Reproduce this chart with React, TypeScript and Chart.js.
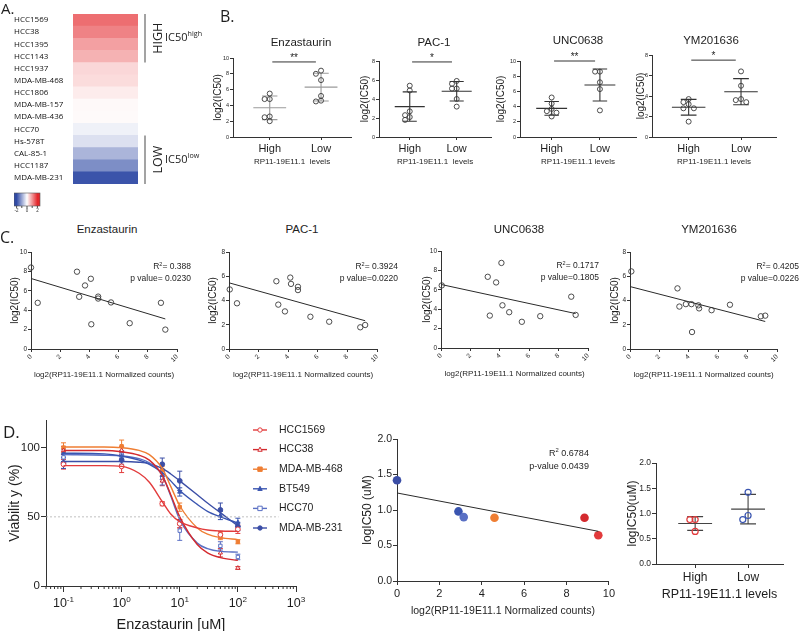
import React, { useEffect, useRef } from "react";
import { Chart, registerables } from "chart.js";

Chart.register(...registerables);

const SANS = "'Liberation Sans', Arial, Helvetica, sans-serif";
const OPEN = "'Open Sans', 'Liberation Sans', sans-serif";
const INK = "#1e1e1e";
const AXIS = "#333333";
Chart.defaults.font.family = SANS;
Chart.defaults.color = INK;

// ================= DATA =================
// Panel A – heatmap
const cellLines = ["HCC1569", "HCC38", "HCC1395", "HCC1143", "HCC1937", "MDA-MB-468", "HCC1806", "MDA-MB-157", "MDA-MB-436", "HCC70", "Hs-578T", "CAL-85-1", "HCC1187", "MDA-MB-231"];
const heatScores = [1.35, 1.16, 0.88, 0.72, 0.37, 0.33, 0.18, 0.06, 0.05, -0.16, -0.34, -0.82, -1.26, -1.9];
const highBracket = ["HCC1569", "HCC1143"];
const lowBracket = ["Hs-578T", "MDA-MB-231"];
const colorbarTicks = [-2, -1, 0, 1, 2];
const colorbarLabels = [-2, 0, 2];

// Panel B – dot plots
const drugs = ["Enzastaurin", "PAC-1", "UNC0638", "YM201636"];
const groupLabels = ["High", "Low"];
const enzHigh = [5.5, 4.8, 4.8, 2.6, 2.5, 2.0];
const enzLow = [8.4, 8.0, 7.2, 5.2, 4.6, 4.5];
const pacHigh = [5.4, 4.9, 2.7, 2.3, 2.1, 1.8];
const pacLow = [5.9, 5.6, 5.1, 5.1, 4.0, 3.2];
const uncHigh = [5.2, 4.4, 3.7, 3.4, 3.2, 2.7];
const uncLow = [8.6, 8.6, 7.2, 6.3, 3.5];
const ymHigh = [3.7, 3.4, 3.2, 2.8, 2.8, 1.5];
const ymLow = [6.4, 5.0, 3.7, 3.6, 3.4];
const bYMax = [10, 8, 10, 8];
const bStars = ["**", "*", "**", "*"];
const bStarLevel = [9.5, 7.9, 10, 7.5];
const bXTitles = ["RP11-19E11.1  levels", "RP11-19E11.1  levels", "RP11-19E11.1 levels", "RP11-19E11.1 levels"];

// Panel C – correlations
const enzCounts = [0, 0.46, 3.15, 3.3, 3.7, 4.1, 4.13, 4.6, 4.6, 5.48, 6.76, 8.9, 9.2];
const enzIC50 = [8.4, 4.76, 7.97, 5.38, 6.55, 7.24, 2.55, 5.4, 5.2, 4.8, 2.66, 4.76, 2.0];
const pacCounts = [0.05, 0.54, 3.2, 3.33, 3.78, 4.14, 4.19, 4.66, 4.66, 5.5, 6.77, 8.87, 9.2];
const pacIC50 = [4.91, 3.77, 5.59, 3.66, 3.1, 5.89, 5.37, 5.13, 4.86, 2.66, 2.25, 1.79, 1.98];
const uncCounts = [0.05, 3.18, 3.32, 3.75, 4.11, 4.18, 4.64, 5.5, 6.75, 8.86, 9.16];
const uncIC50 = [6.45, 7.34, 3.34, 6.76, 8.77, 4.4, 3.69, 2.7, 3.28, 5.29, 3.41];
const ymCounts = [0.09, 3.23, 3.36, 3.8, 4.18, 4.22, 4.65, 4.7, 5.55, 6.8, 8.9, 9.2];
const ymIC50 = [6.4, 5.0, 3.5, 3.7, 3.7, 1.4, 3.6, 3.35, 3.2, 3.65, 2.7, 2.75];
const cFitStart = [7.27, 5.46, 6.55, 5.15];
const cFitEnd = [3.1, 2.33, 3.55, 2.27];
const cFitEndX = [9.2, 9.2, 9.16, 9.2];
const cYMax = [10, 8, 10, 8];
const cR2Text = ["= 0.388", "= 0.3924", "= 0.1717", "= 0.4205"];
const cPText = ["p value= 0.0230", "p value=0.0220", "p value=0.1805", "p value=0.0226"];

// Panel D – dose response
const dLines = ["HCC1569", "HCC38", "MDA-MB-468", "BT549", "HCC70", "MDA-MB-231"];
const doses = [0.1, 1, 5, 10, 50, 100];
const fitDoses = [0.1, 0.5, 1, 2, 3, 5, 7, 10, 20, 30, 50, 100];
const hcc1569Pts = [88, 86.5, 59.5, 45, 37, 41];
const hcc38Pts = [98, 98, 76, 45, 24, 13];
const mdamb468Pts = [100, 101, 84, 57, 36, 32];
const bt549Pts = [96, 94, 80, 68, 51, 46];
const hcc70Pts = [93, 95, 78, 40, 29, 21];
const mdamb231Pts = [89, 91, 88, 76, 55, 43];
const hcc1569Err = [3.5, 4.5, 1.5, 3, 2.5, 3];
const hcc38Err = [3, 3, 3.5, 3, 3, 1];
const mdamb468Err = [3.5, 4.5, 2.5, 3, 2.5, 1.5];
const bt549Err = [3, 3, 3, 3, 3, 3];
const hcc70Err = [3, 3, 5, 7, 3, 2];
const mdamb231Err = [4, 3, 4.5, 7, 5, 3];
const hcc1569Fit = [87, 87, 86.5, 81.5, 75, 61, 52, 46.5, 42, 40.5, 39.8, 39.5];
const hcc38Fit = [98, 98, 97, 94.5, 91, 80, 66, 50, 30, 24, 20.5, 18.5];
const mdamb468Fit = [100.5, 100.5, 100, 98, 95, 85, 72, 58, 42, 37.5, 35, 33.5];
const bt549Fit = [96, 95.5, 94, 91, 88, 82, 76, 69, 59, 54, 50, 45.5];
const hcc70Fit = [95, 94.5, 94, 92, 89, 80, 65, 48, 31, 27, 25, 24.5];
const mdamb231Fit = [90, 90, 90, 89.5, 88.5, 85, 81, 76, 66, 60, 53, 43.5];
const dMajorTicks = [0.1, 1, 10, 100, 1000];
const halfViability = 50;

const d2Lines = ["MDA-MB-231", "BT549", "HCC70", "MDA-MB-468", "HCC38", "HCC1569"];
const d2Counts = [0, 2.9, 3.15, 4.6, 8.85, 9.5];
const d2LogIC50 = [1.42, 0.98, 0.9, 0.89, 0.89, 0.645];
const d2FitX = [0, 9.5];
const d2FitY = [1.24, 0.7];
const d2R2 = "0.6784";
const d2P = "0.0439";

const d3High = [0.88, 0.88, 0.645];
const d3Low = [1.42, 0.96, 0.88];

// ================= STYLE MAPS =================
const dColor: Record<string, string> = {
  HCC1569: "#e23b3c",
  HCC38: "#d42a2e",
  "MDA-MB-468": "#ef7e33",
  BT549: "#3a55b0",
  HCC70: "#5a70c4",
  "MDA-MB-231": "#3b4ea6",
};
const dStyle: Record<string, [string, boolean]> = {
  HCC1569: ["circle", false],
  HCC38: ["triangle", false],
  "MDA-MB-468": ["rect", true],
  BT549: ["triangle", true],
  HCC70: ["rect", false],
  "MDA-MB-231": ["circle", true],
};

// ================= HELPERS =================
type Box = { x0: number; y0: number; x1: number; y1: number; yW: number; xH: number; pT: number; pR: number; pB?: number; pL?: number };

const fixWidth = (w: number) => (s: any) => { s.width = w; };
const fixHeight = (h: number) => (s: any) => { s.height = h; };
const useTicks = (vals: number[]) => (s: any) => { s.ticks = vals.map((v) => ({ value: v })); };
const steps = (a: number, b: number, st: number) => { const r: number[] = []; for (let v = a; v <= b + 1e-9; v += st) r.push(+v.toFixed(6)); return r; };
const mean = (a: number[]) => a.reduce((s, v) => s + v, 0) / a.length;
const sd = (a: number[]) => { const m = mean(a); return Math.sqrt(a.reduce((s, v) => s + (v - m) * (v - m), 0) / (a.length - 1)); };

function heatColor(v: number) {
  const f = Math.min(Math.abs(v) / 2, 1);
  const t = v >= 0 ? [228, 40, 44] : [49, 75, 165];
  const c = t.map((x) => Math.round(255 + (x - 255) * f));
  return `rgb(${c[0]},${c[1]},${c[2]})`;
}

function swarm(vals: number[], thr: number, d: number) {
  const order = vals.map((_, i) => i).sort((a, b) => vals[b] - vals[a]);
  const offs = new Array(vals.length).fill(0);
  const placed: number[] = [];
  const cands = [0, -d, d, -2 * d, 2 * d];
  for (const i of order) {
    for (const c of cands) {
      if (placed.every((j) => Math.abs(vals[j] - vals[i]) >= thr || Math.abs(offs[j] - c) >= d * 0.99)) { offs[i] = c; break; }
    }
    placed.push(i);
  }
  return offs;
}

function richText(ctx: any, x: number, y: number, parts: Array<[string, boolean]>, size: number, align: string, color: string, family = SANS) {
  const sup = size * 0.65;
  let total = 0;
  const widths = parts.map(([t, s]) => { ctx.font = `${s ? sup : size}px ${family}`; const w = ctx.measureText(t).width; total += w; return w; });
  let cx = align === "left" ? x : align === "right" ? x - total : x - total / 2;
  ctx.save();
  ctx.fillStyle = color; ctx.textBaseline = "middle"; ctx.textAlign = "left";
  parts.forEach(([t, s], i) => { ctx.font = `${s ? sup : size}px ${family}`; ctx.fillText(t, cx, s ? y - size * 0.35 : y); cx += widths[i]; });
  ctx.restore();
}

function marker(ctx: any, style: string, x: number, y: number, r: number, color: string, filled: boolean) {
  ctx.save();
  ctx.strokeStyle = color; ctx.fillStyle = filled ? color : "#fff"; ctx.lineWidth = 1;
  ctx.beginPath();
  if (style === "circle") ctx.arc(x, y, r, 0, Math.PI * 2);
  else if (style === "rect") ctx.rect(x - r, y - r, 2 * r, 2 * r);
  else { ctx.moveTo(x, y - r * 1.15); ctx.lineTo(x + r, y + r * 0.75); ctx.lineTo(x - r, y + r * 0.75); ctx.closePath(); }
  ctx.fill(); ctx.stroke();
  ctx.restore();
}

function yAxis(box: Box, min: number, max: number, ticks: number[], size: number, title: string, titleSize: number, tickLen = 3, fmt?: (v: number) => string) {
  const t: any = { font: { size, family: SANS }, color: INK, padding: 1, autoSkip: false, maxRotation: 0 };
  if (fmt) t.callback = (v: any) => fmt(Number(v));
  return {
    type: "linear", min, max, bounds: "data",
    afterFit: fixWidth(box.yW), afterBuildTicks: useTicks(ticks),
    grid: { display: true, drawOnChartArea: false, drawTicks: true, tickLength: tickLen, color: AXIS, tickColor: AXIS, tickWidth: 1 },
    border: { display: true, color: AXIS, width: 1 },
    ticks: t,
    title: { display: !!title, text: title, font: { size: titleSize, family: SANS }, color: INK, padding: { top: 0, bottom: 0 } },
  };
}

function xAxis(box: Box, min: number, max: number, ticks: number[], size: number, title: string, titleSize: number, tickLen = 3, extraTicks: any = {}) {
  return {
    type: "linear", min, max, bounds: "data",
    afterFit: fixHeight(box.xH), afterBuildTicks: useTicks(ticks),
    grid: { display: true, drawOnChartArea: false, drawTicks: true, tickLength: tickLen, color: AXIS, tickColor: AXIS, tickWidth: 1 },
    border: { display: true, color: AXIS, width: 1 },
    ticks: { font: { size, family: SANS }, color: INK, padding: 2, autoSkip: false, maxRotation: 0, ...extraTicks },
    title: { display: !!title, text: title, font: { size: titleSize, family: SANS }, color: INK, padding: { top: 0, bottom: 0 } },
  };
}

const baseOptions = { plugins: { legend: { display: false }, tooltip: { enabled: false }, title: { display: false } } };

// ================= PLUGINS =================
const heatExtras = {
  id: "heatExtras",
  afterDraw(chart: any) {
    const { ctx, chartArea: a } = chart;
    const y = chart.scales.y;
    const rowH = (a.bottom - a.top) / cellLines.length;
    const groups = [
      { from: highBracket[0], to: highBracket[1], word: "HIGH", sup: "high" },
      { from: lowBracket[0], to: lowBracket[1], word: "LOW", sup: "low" },
    ];
    groups.forEach((g) => {
      const top = y.getPixelForValue(cellLines.indexOf(g.from)) - rowH / 2;
      const bot = y.getPixelForValue(cellLines.indexOf(g.to)) + rowH / 2;
      const cy = (top + bot) / 2;
      ctx.save();
      ctx.strokeStyle = "#8c8c8c"; ctx.lineWidth = 1.6;
      ctx.beginPath(); ctx.moveTo(a.right + 7, top); ctx.lineTo(a.right + 7, bot); ctx.stroke();
      ctx.translate(a.right + 20, cy); ctx.rotate(-Math.PI / 2);
      ctx.font = `12.5px ${OPEN}`; ctx.fillStyle = "#222"; ctx.textAlign = "center"; ctx.textBaseline = "middle";
      ctx.fillText(g.word, 0, 0);
      ctx.restore();
      richText(ctx, a.right + 27, cy, [["IC50", false], [g.sup, true]], 11, "left", "#222", OPEN);
    });
    // colour bar
    const cbL = chart.scales.y.left, cbW = 26, cbT = a.bottom + 9, cbH = 13;
    const grad = ctx.createLinearGradient(cbL, 0, cbL + cbW, 0);
    for (let t = 0; t <= 1.0001; t += 0.1) grad.addColorStop(Math.min(t, 1), heatColor(-2.5 + 5 * t));
    ctx.save();
    ctx.fillStyle = grad; ctx.fillRect(cbL, cbT, cbW, cbH);
    ctx.strokeStyle = "#555"; ctx.lineWidth = 0.6; ctx.strokeRect(cbL, cbT, cbW, cbH);
    ctx.strokeStyle = "#222"; ctx.lineWidth = 0.8;
    colorbarTicks.forEach((v) => { const px = cbL + ((v + 2.5) / 5) * cbW; ctx.beginPath(); ctx.moveTo(px, cbT + cbH); ctx.lineTo(px, cbT + cbH + 2); ctx.stroke(); });
    ctx.fillStyle = "#333"; ctx.font = `4.5px ${SANS}`; ctx.textAlign = "center"; ctx.textBaseline = "top";
    colorbarLabels.forEach((v) => { const px = cbL + ((v + 2.5) / 5) * cbW; ctx.fillText(String(v), px, cbT + cbH + 3); });
    ctx.restore();
  },
};

const errorBars = {
  id: "errorBars",
  beforeDatasetsDraw(chart: any) {
    const { ctx } = chart;
    chart.data.datasets.forEach((ds: any, i: number) => {
      if (!ds.errs) return;
      const meta = chart.getDatasetMeta(i);
      const ys = chart.scales[meta.yAxisID];
      ctx.save(); ctx.strokeStyle = ds.barColor; ctx.lineWidth = 1;
      meta.data.forEach((el: any, j: number) => {
        const v = ds.data[j].y, e = ds.errs[j];
        const t = ys.getPixelForValue(v + e), b = ys.getPixelForValue(v - e);
        ctx.beginPath();
        ctx.moveTo(el.x, t); ctx.lineTo(el.x, b);
        ctx.moveTo(el.x - 2.5, t); ctx.lineTo(el.x + 2.5, t);
        ctx.moveTo(el.x - 2.5, b); ctx.lineTo(el.x + 2.5, b);
        ctx.stroke();
      });
      ctx.restore();
    });
  },
};

// ================= BUILDERS =================
function buildHeat(box: Box) {
  return {
    type: "bar",
    data: { labels: cellLines, datasets: [{ data: cellLines.map(() => 1), backgroundColor: heatScores.map(heatColor), borderWidth: 0, barPercentage: 1, categoryPercentage: 1 }] },
    options: {
      ...baseOptions,
      indexAxis: "y",
      scales: {
        x: { display: false, min: 0, max: 1 },
        y: { afterFit: fixWidth(box.yW), grid: { display: false }, border: { display: false }, ticks: { crossAlign: "far", padding: 0, autoSkip: false, font: { family: OPEN, size: 8 }, color: "#111" } },
      },
    },
    plugins: [heatExtras],
  };
}

type DotParams = {
  groups: number[][]; colors: string[]; ymax: number; ystep: number; xmin: number; xmax: number;
  yTitle: string; xTitle: string; yTick: number; yTitleSize: number; groupSize: number; xTitleSize: number;
  lineColor: string; star?: string; starLevel?: number; fmt?: (v: number) => string; radius: number; pointBorder: number; tickLen: number;
};

function buildDot(box: Box, p: DotParams) {
  const meanPlugin = {
    id: "meanSD",
    beforeDatasetsDraw(chart: any) {
      const { ctx } = chart;
      const x = chart.scales.x, y = chart.scales.y;
      ctx.save(); ctx.strokeStyle = p.lineColor; ctx.lineWidth = 1.1;
      p.groups.forEach((vals, gi) => {
        const m = mean(vals), s = sd(vals);
        const px = x.getPixelForValue(gi);
        const half = x.getPixelForValue(gi + 0.32) - px, cap = x.getPixelForValue(gi + 0.15) - px;
        const ym = y.getPixelForValue(m), yt = y.getPixelForValue(m + s), yb = y.getPixelForValue(m - s);
        ctx.beginPath();
        ctx.moveTo(px - half, ym); ctx.lineTo(px + half, ym);
        ctx.moveTo(px, yt); ctx.lineTo(px, yb);
        ctx.moveTo(px - cap, yt); ctx.lineTo(px + cap, yt);
        ctx.moveTo(px - cap, yb); ctx.lineTo(px + cap, yb);
        ctx.stroke();
      });
      if (p.star && p.starLevel !== undefined) {
        const ys = y.getPixelForValue(p.starLevel);
        const xa = x.getPixelForValue(0.05), xb = x.getPixelForValue(0.9);
        ctx.strokeStyle = "#333"; ctx.lineWidth = 1;
        ctx.beginPath(); ctx.moveTo(xa, ys); ctx.lineTo(xb, ys); ctx.stroke();
        ctx.fillStyle = INK; ctx.font = `10px ${SANS}`; ctx.textAlign = "center"; ctx.textBaseline = "bottom";
        ctx.fillText(p.star, (xa + xb) / 2, ys + 1);
      }
      ctx.restore();
    },
  };
  const datasets = p.groups.map((vals, gi) => {
    const offs = swarm(vals, p.ymax * 0.06, 0.1);
    return {
      data: vals.map((v, i) => ({ x: gi + offs[i], y: v })),
      pointRadius: p.radius, pointBorderColor: p.colors[gi], pointBackgroundColor: "rgba(255,255,255,0)",
      pointBorderWidth: p.pointBorder, showLine: false, clip: false,
    };
  });
  return {
    type: "scatter",
    data: { datasets },
    options: {
      ...baseOptions,
      scales: {
        x: xAxis(box, p.xmin, p.xmax, [0, 1], p.groupSize, p.xTitle, p.xTitleSize, p.tickLen, { callback: (v: any) => groupLabels[Number(v)] }),
        y: yAxis(box, 0, p.ymax, steps(0, p.ymax, p.ystep), p.yTick, p.yTitle, p.yTitleSize, p.tickLen, p.fmt),
      },
    },
    plugins: [meanPlugin],
  };
}

const cCounts = [enzCounts, pacCounts, uncCounts, ymCounts];
const cIC50 = [enzIC50, pacIC50, uncIC50, ymIC50];
const cAnnoDx = [14, 21, 11, 22];

function buildCorr(box: Box, idx: number) {
  const xs = cCounts[idx], ys = cIC50[idx];
  const anno = {
    id: "corrAnno",
    afterDraw(chart: any) {
      const { ctx, chartArea: a } = chart;
      const rx = a.right + cAnnoDx[idx];
      richText(ctx, rx, a.top + 15, [["R", false], ["2", true], [cR2Text[idx], false]], 8.5, "right", INK);
      richText(ctx, rx, a.top + 27, [[cPText[idx], false]], 8.5, "right", INK);
    },
  };
  return {
    type: "scatter",
    data: {
      datasets: [
        { data: [{ x: 0, y: cFitStart[idx] }, { x: cFitEndX[idx], y: cFitEnd[idx] }], showLine: true, borderColor: "#2a2a2a", borderWidth: 1, pointRadius: 0, clip: false },
        { data: xs.map((x, i) => ({ x, y: ys[i] })), pointRadius: 2.7, pointBorderColor: "#3a3a3a", pointBackgroundColor: "rgba(255,255,255,0)", pointBorderWidth: 0.9, clip: false },
      ],
    },
    options: {
      ...baseOptions,
      scales: {
        x: xAxis(box, 0, 10, steps(0, 10, 2), 6.5, "log2(RP11-19E11.1 Normalized counts)", 8, 3, { minRotation: 45, maxRotation: 45, padding: 1 }),
        y: yAxis(box, 0, cYMax[idx], steps(0, cYMax[idx], 2), 6.5, "log2(IC50)", 10, 3),
      },
    },
    plugins: [anno],
  };
}

const dPts = [hcc1569Pts, hcc38Pts, mdamb468Pts, bt549Pts, hcc70Pts, mdamb231Pts];
const dErr = [hcc1569Err, hcc38Err, mdamb468Err, bt549Err, hcc70Err, mdamb231Err];
const dFit = [hcc1569Fit, hcc38Fit, mdamb468Fit, bt549Fit, hcc70Fit, mdamb231Fit];

function buildDose(box: Box) {
  const curves = dLines.map((name, i) => ({
    data: fitDoses.map((d, j) => ({ x: d, y: dFit[i][j] })),
    showLine: true, borderColor: dColor[name], borderWidth: 1.4, pointRadius: 0, cubicInterpolationMode: "monotone", clip: false,
  }));
  const points = dLines.map((name, i) => ({
    data: doses.map((d, j) => ({ x: d, y: dPts[i][j] })),
    errs: dErr[i], barColor: dColor[name],
    showLine: false, pointStyle: dStyle[name][0], pointRadius: 2.4,
    pointBorderColor: dColor[name], pointBackgroundColor: dStyle[name][1] ? dColor[name] : "#ffffff", pointBorderWidth: 1, clip: false,
  }));
  const ref = { data: [{ x: 0.05, y: halfViability }, { x: 500, y: halfViability }], showLine: true, borderColor: "#b0b0b0", borderWidth: 0.8, borderDash: [2, 2], pointRadius: 0 };
  const extras = {
    id: "doseExtras",
    afterDraw(chart: any) {
      const { ctx, chartArea: a } = chart;
      const x = chart.scales.x;
      ctx.save(); ctx.strokeStyle = AXIS; ctx.lineWidth = 1;
      for (let k = -2; k <= 2; k++) for (let m = 2; m <= 9; m++) {
        const v = m * Math.pow(10, k);
        if (v < x.min || v > x.max) continue;
        const px = x.getPixelForValue(v);
        ctx.beginPath(); ctx.moveTo(px, a.bottom); ctx.lineTo(px, a.bottom + 3); ctx.stroke();
      }
      ctx.restore();
      dMajorTicks.forEach((v) => {
        const px = x.getPixelForValue(v);
        richText(ctx, px, a.bottom + 18, [["10", false], [String(Math.round(Math.log10(v))), true]], 12.5, "center", INK);
      });
      // legend
      dLines.forEach((name, i) => {
        const ly = a.top + 10 + i * 19.6;
        const lx0 = a.right - 43, lx1 = a.right - 29;
        ctx.save(); ctx.strokeStyle = dColor[name]; ctx.lineWidth = 1.4;
        ctx.beginPath(); ctx.moveTo(lx0, ly); ctx.lineTo(lx1, ly); ctx.stroke(); ctx.restore();
        marker(ctx, dStyle[name][0], (lx0 + lx1) / 2, ly, 2.2, dColor[name], dStyle[name][1]);
        ctx.save(); ctx.fillStyle = INK; ctx.font = `10.5px ${SANS}`; ctx.textAlign = "left"; ctx.textBaseline = "middle";
        ctx.fillText(name, a.right - 17, ly); ctx.restore();
      });
    },
  };
  return {
    type: "scatter",
    data: { datasets: [ref, ...curves, ...points] },
    options: {
      ...baseOptions,
      scales: {
        x: {
          type: "logarithmic", min: 0.05, max: 1000, bounds: "data",
          afterFit: fixHeight(box.xH), afterBuildTicks: useTicks(dMajorTicks),
          grid: { display: true, drawOnChartArea: false, drawTicks: true, tickLength: 6, color: AXIS, tickColor: AXIS },
          border: { display: true, color: AXIS, width: 1 },
          ticks: { display: false, autoSkip: false },
          title: { display: true, text: "Enzastaurin [uM]", font: { size: 14.5, family: SANS }, color: INK, padding: { top: 0, bottom: 0 } },
        },
        y: yAxis(box, 0, 120, [0, 50, 100], 11.5, "Viabilit y (%)", 14, 5),
      },
    },
    plugins: [errorBars, extras],
  };
}

function buildD2(box: Box) {
  const anno = {
    id: "d2Anno",
    afterDraw(chart: any) {
      const { ctx, chartArea: a } = chart;
      richText(ctx, a.right - 20, a.top + 15, [["R", false], ["2", true], [" " + d2R2, false]], 9, "right", INK);
      richText(ctx, a.right - 20, a.top + 28, [["p-value " + d2P, false]], 9, "right", INK);
    },
  };
  return {
    type: "scatter",
    data: {
      datasets: [
        { data: d2FitX.map((x, i) => ({ x, y: d2FitY[i] })), showLine: true, borderColor: "#2a2a2a", borderWidth: 1, pointRadius: 0, clip: false },
        { data: d2Counts.map((x, i) => ({ x, y: d2LogIC50[i] })), pointRadius: 4.3, pointBackgroundColor: d2Lines.map((n) => dColor[n]), pointBorderWidth: 0, clip: false },
      ],
    },
    options: {
      ...baseOptions,
      scales: {
        x: xAxis(box, 0, 10, steps(0, 10, 2), 11, "log2(RP11-19E11.1 Normalized counts)", 10.5, 4),
        y: yAxis(box, 0, 2, steps(0, 2, 0.5), 10.5, "logIC50 (uM)", 12, 4, (v) => v.toFixed(1)),
      },
    },
    plugins: [anno],
  };
}

// ================= COMPONENTS =================
function ChartCanvas({ box, build }: { box: Box; build: (b: Box) => any }) {
  const ref = useRef<HTMLCanvasElement>(null);
  const pL = box.pL ?? 0, pB = box.pB ?? 0;
  const left = box.x0 - box.yW - pL;
  const top = box.y0 - box.pT;
  const width = box.x1 - box.x0 + box.yW + pL + box.pR;
  const height = box.y1 - box.y0 + box.pT + box.xH + pB;
  useEffect(() => {
    const cfg = build(box);
    cfg.options = cfg.options || {};
    cfg.options.responsive = false;
    cfg.options.maintainAspectRatio = false;
    cfg.options.animation = false;
    cfg.options.events = [];
    cfg.options.devicePixelRatio = 1;
    cfg.options.layout = { padding: { left: pL, top: box.pT, right: box.pR, bottom: pB } };
    const ch = new Chart(ref.current as HTMLCanvasElement, cfg);
    return () => ch.destroy();
  }, []);
  return <canvas ref={ref} width={width} height={height} style={{ position: "absolute", left, top, width, height }} />;
}

function Txt({ x, y, s, size, family = SANS, anchor = "middle" }: { x: number; y: number; s: string; size: number; family?: string; anchor?: string }) {
  return (
    <div style={{ position: "absolute", left: x, top: y, transform: anchor === "middle" ? "translate(-50%,-50%)" : "translate(0,-50%)", fontSize: size, fontFamily: family, lineHeight: 1, whiteSpace: "nowrap", color: INK }}>
      {s}
    </div>
  );
}

const heatBox: Box = { x0: 73, y0: 14, x1: 138, y1: 184, yW: 59, xH: 0, pT: 8, pR: 72, pB: 30 };
const bBoxes: Box[] = [
  { x0: 233, y0: 58, x1: 352, y1: 137, yW: 21, xH: 30, pT: 12, pR: 4 },
  { x0: 379, y0: 61, x1: 492, y1: 137, yW: 20, xH: 30, pT: 12, pR: 4 },
  { x0: 520, y0: 61, x1: 637, y1: 137, yW: 25, xH: 30, pT: 12, pR: 4 },
  { x0: 652, y0: 55, x1: 777, y1: 137, yW: 17, xH: 30, pT: 12, pR: 4 },
];
const bXRange = [[-0.716, 1.586], [-0.655, 1.733], [-0.656, 1.75], [-0.7, 1.67]];
const bGroups = [[enzHigh, enzLow], [pacHigh, pacLow], [uncHigh, uncLow], [ymHigh, ymLow]];
const bLineColors = ["#9a9a9a", "#333", "#333", "#333"];
const bTitlePos = [[301, 43], [434, 43], [578, 41], [711, 41]];

const cBoxes: Box[] = [
  { x0: 31, y0: 252, x1: 177, y1: 349, yW: 22, xH: 31, pT: 6, pR: 24 },
  { x0: 229, y0: 252, x1: 377, y1: 349, yW: 22, xH: 31, pT: 6, pR: 24 },
  { x0: 441, y0: 251, x1: 588, y1: 348, yW: 20, xH: 31, pT: 6, pR: 14 },
  { x0: 630, y0: 252, x1: 777, y1: 349, yW: 21, xH: 31, pT: 6, pR: 23 },
];
const cTitlePos = [[107, 230], [302, 230], [519, 230], [709, 230]];

const doseBox: Box = { x0: 46, y0: 420, x1: 296, y1: 586, yW: 39, xH: 48, pT: 10, pR: 60 };
const d2Box: Box = { x0: 397, y0: 439, x1: 609, y1: 581, yW: 37, xH: 36, pT: 8, pR: 8 };
const d3Box: Box = { x0: 656, y0: 463, x1: 783, y1: 564, yW: 31, xH: 38, pT: 8, pR: 12 };

export default function App() {
  useEffect(() => { document.body.style.margin = "0"; }, []);
  return (
    <div style={{ position: "absolute", left: 0, top: 0, width: 800, height: 631, overflow: "hidden", background: "#fff" }}>
      <ChartCanvas box={heatBox} build={buildHeat} />
      {bBoxes.map((b, i) => (
        <ChartCanvas key={"b" + i} box={b} build={(bx) => buildDot(bx, {
          groups: bGroups[i], colors: ["#3a3a3a", "#3a3a3a"], ymax: bYMax[i], ystep: 2, xmin: bXRange[i][0], xmax: bXRange[i][1],
          yTitle: "log2(IC50)", xTitle: bXTitles[i], yTick: 5.5, yTitleSize: 10, groupSize: 11, xTitleSize: 8,
          lineColor: bLineColors[i], star: bStars[i], starLevel: bStarLevel[i], radius: 2.5, pointBorder: 0.9, tickLen: 3,
        })} />
      ))}
      {cBoxes.map((b, i) => (
        <ChartCanvas key={"c" + i} box={b} build={(bx) => buildCorr(bx, i)} />
      ))}
      <ChartCanvas box={doseBox} build={buildDose} />
      <ChartCanvas box={d2Box} build={buildD2} />
      <ChartCanvas box={d3Box} build={(bx) => buildDot(bx, {
        groups: [d3High, d3Low], colors: [dColor.HCC1569, dColor.BT549], ymax: 2, ystep: 0.5, xmin: -0.74, xmax: 1.66,
        yTitle: "logIC50(uM)", xTitle: "RP11-19E11.1 levels", yTick: 8.5, yTitleSize: 12, groupSize: 12, xTitleSize: 12.5,
        lineColor: "#444", radius: 3, pointBorder: 1.2, tickLen: 4, fmt: (v) => v.toFixed(1),
      })} />

      <Txt x={1} y={8} s="A." size={15} family={OPEN} anchor="left" />
      <Txt x={220} y={16} s="B." size={16} family={OPEN} anchor="left" />
      <Txt x={0} y={237} s="C." size={16} family={OPEN} anchor="left" />
      <Txt x={3} y={431} s="D." size={17} family={OPEN} anchor="left" />
      {drugs.map((d, i) => (
        <Txt key={"bt" + i} x={bTitlePos[i][0]} y={bTitlePos[i][1]} s={d} size={11.5} />
      ))}
      {drugs.map((d, i) => (
        <Txt key={"ct" + i} x={cTitlePos[i][0]} y={cTitlePos[i][1]} s={d} size={11.5} />
      ))}
    </div>
  );
}
